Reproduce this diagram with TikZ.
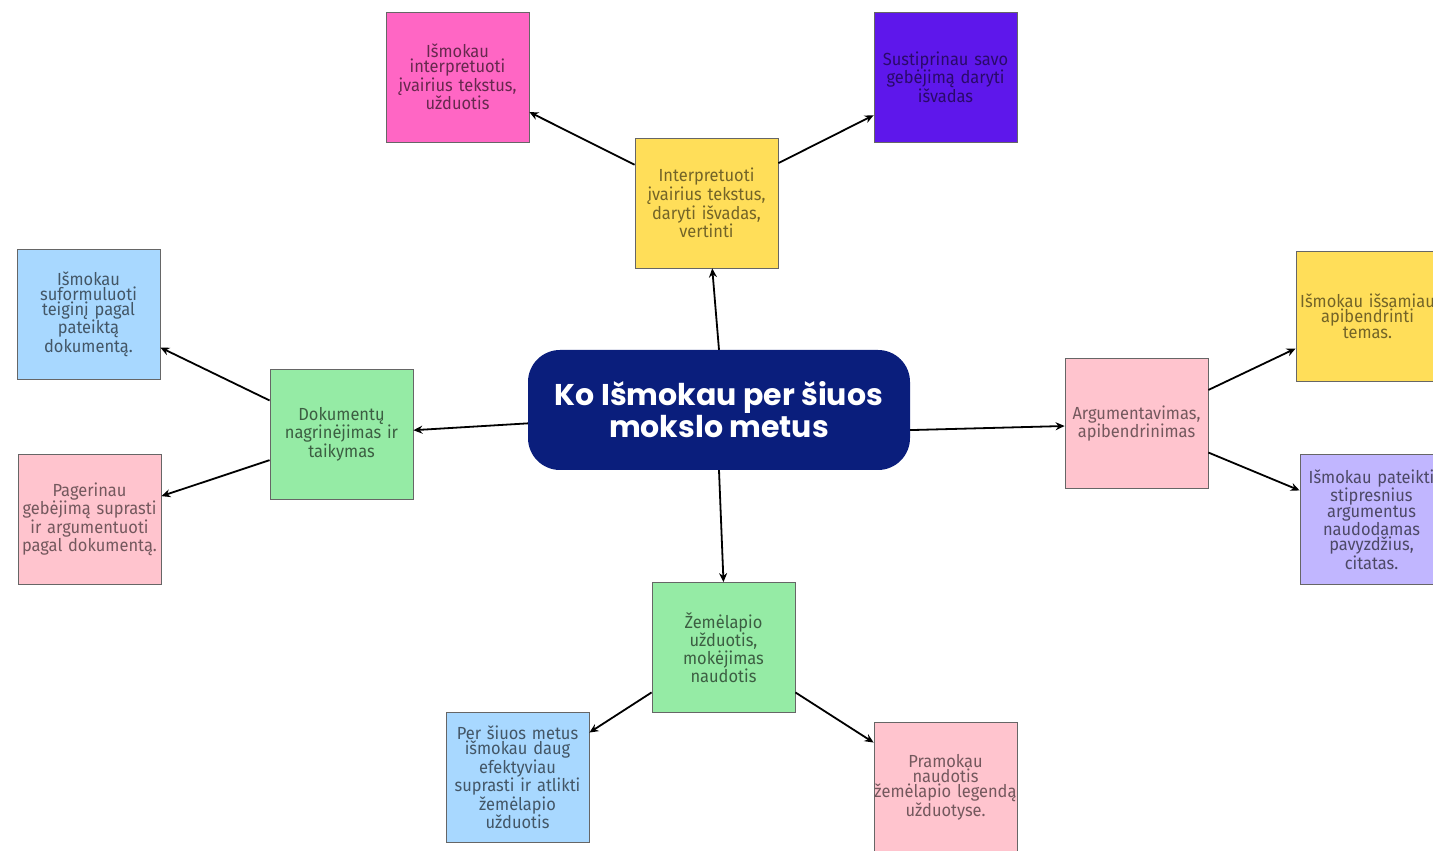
\documentclass[tikz,border=0pt]{standalone}
\usepackage{fontspec}
\setmainfont{Fira Sans}[FakeStretch=0.94]
\newfontfamily\hubfont{Poppins}
\usetikzlibrary{arrows.meta, positioning}
\definecolor{mmNavy}{HTML}{0A1E7C}
\definecolor{mmHot}{HTML}{FF66C4}
\definecolor{mmViolet}{HTML}{5E17EB}
\definecolor{mmSun}{HTML}{FFDE59}
\definecolor{mmSky}{HTML}{A8D8FF}
\definecolor{mmRose}{HTML}{FFC4CE}
\definecolor{mmMint}{HTML}{95EBA5}
\definecolor{mmLilac}{HTML}{C1B6FF}
\tikzset{
  mbox/.style={
    draw=black!60, line width=0.8pt, minimum width=143pt, minimum height=130pt,
    text width=153pt, inner xsep=-5pt, inner ysep=0pt, align=center,
    font=\fontsize{17.5}{15}\selectfont
  },
  hotbox/.style={mbox, fill=mmHot, text=mmHot!40!black},
  violetbox/.style={mbox, fill=mmViolet, text=mmViolet!45!black},
  sunbox/.style={mbox, fill=mmSun, text=mmSun!45!black},
  skybox/.style={mbox, fill=mmSky, text=mmSky!40!black},
  rosebox/.style={mbox, fill=mmRose, text=mmRose!45!black},
  mintbox/.style={mbox, fill=mmMint, text=mmMint!40!black},
  lilacbox/.style={mbox, fill=mmLilac, text=mmLilac!40!black},
  hub/.style={
    fill=mmNavy, text=white, rounded corners=32pt, minimum width=382pt,
    minimum height=120pt, align=center,
    font=\hubfont\bfseries\fontsize{30}{32}\selectfont
  },
  link/.style={-{Stealth[length=9pt, width=8pt]}, line width=1.8pt, black}
}
\begin{document}
\begin{tikzpicture}[x=1pt, y=1pt]
  \clip (0,0) rectangle (1433,851);
  \fill[white] (0,0) rectangle (1433,851);

  % centre
  \node[hub] (ctr) at (719,441) {Ko Išmokau per šiuos\\mokslo metus};

  % top branch
  \node[sunbox] (yT) at (706.5,648) {Interpretuoti\\įvairius tekstus,\\daryti išvadas,\\vertinti};
  \node[hotbox] (pkT) at (457.5,774) {Išmokau\\interpretuoti\\įvairius tekstus,\\užduotis};
  \node[violetbox] (puT) at (945.5,774) {Sustiprinau savo\\gebėjimą daryti\\išvadas};

  % left branch
  \node[mintbox] (grL) at (341.5,417) {Dokumentų\\nagrinėjimas ir\\taikymas};
  \node[skybox] (blL) at (88.5,537) {Išmokau\\suformuluoti\\teiginį pagal\\pateiktą\\dokumentą.};
  \node[rosebox] (pkL) at (89.5,331.5) {Pagerinau\\gebėjimą suprasti\\ir argumentuoti\\pagal dokumentą.};

  % right branch
  \node[rosebox] (pkR) at (1136.5,427.5) {Argumentavimas,\\apibendrinimas};
  \node[sunbox] (yeR) at (1367.5,534.5) {Išmokau išsamiau\\apibendrinti\\temas.};
  \node[lilacbox] (lvR) at (1371.5,331.5) {Išmokau pateikti\\stipresnius\\argumentus\\naudodamas\\pavyzdžius,\\citatas.};

  % bottom branch
  \node[mintbox] (grB) at (723.5,203.5) {Žemėlapio\\užduotis,\\mokėjimas\\naudotis};
  \node[skybox] (blB) at (517.5,73.5) {Per šiuos metus\\išmokau daug\\efektyviau\\suprasti ir atlikti\\žemėlapio\\užduotis};
  \node[rosebox] (pkB) at (945.5,63.5) {Pramokau\\naudotis\\žemėlapio legendą\\užduotyse.};

  % connectors
  \draw[link] (ctr.north) -- (yT.275);
  \draw[link] (yT.152) -- (pkT.-26);
  \draw[link] (yT.29) -- (puT.208);
  \draw[link] (ctr.184) -- (grL.3);
  \draw[link] (grL.155) -- (blL.-25);
  \draw[link] (grL.200) -- (pkL.18);
  \draw[link] (ctr.-6) -- (pkR.182);
  \draw[link] (pkR.25) -- (yeR.204);
  \draw[link] (pkR.-22) -- (lvR.158);
  \draw[link] (ctr.south) -- (grB.north);
  \draw[link] (grB.212) -- (blB.32);
  \draw[link] (grB.-32) -- (pkB.148);
\end{tikzpicture}
\end{document}
